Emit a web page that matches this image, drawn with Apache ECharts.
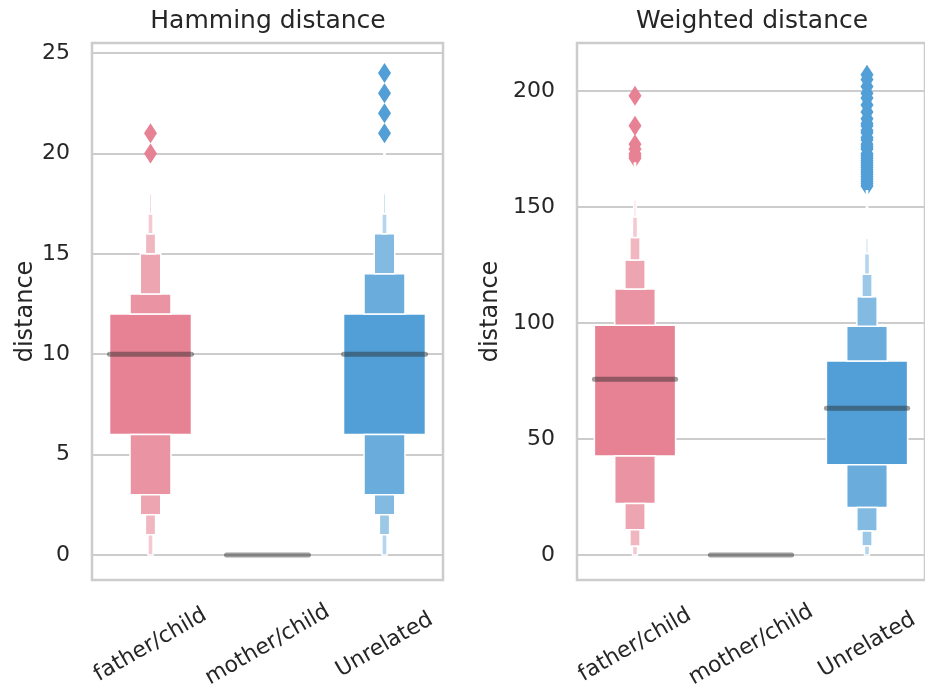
<!DOCTYPE html>
<html><head><meta charset="utf-8">
<script src="https://cdn.jsdelivr.net/npm/echarts@6/dist/echarts.min.js"></script>
<style>html,body{margin:0;padding:0;background:#fff}#c{width:925px;height:691px}</style>
</head><body><div id="c"></div>
<script>
// ---- data ----
const categories = ['father/child', 'mother/child', 'Unrelated'];
const baseColors = ['#e68294', '#7cb461', '#519fd6'];

// Hamming distance: letter values (index 0 = innermost box)
const hamMedians = [10, 0, 10];
const hamFatherLower = [6, 3, 2, 1, 0, 0, 0];
const hamFatherUpper = [12, 13, 15, 16, 17, 18, 19];
const hamUnrelLower = [6, 3, 2, 1, 0, 0, 0];
const hamUnrelUpper = [12, 14, 16, 16, 17, 18, 20];
const hamFatherOutliers = [20, 21];
const hamUnrelOutliers = [21, 22, 23, 24];
const hamTicks = [0, 5, 10, 15, 20, 25];

// Weighted distance
const wtdMedians = [75.7, 0, 63.2];
const wtdFatherLower = [42.7, 22.2, 10.9, 3.7, 0, 0, 0];
const wtdFatherUpper = [99.0, 114.7, 127.1, 136.9, 145.8, 153.0, 169];
const wtdUnrelLower = [38.9, 20.5, 10.3, 3.9, 0, 0, 0];
const wtdUnrelUpper = [83.6, 98.6, 111.3, 121.0, 130.0, 136.5, 157];
const wtdFatherOutliers = [198, 185, 177, 175, 173, 172, 171];
const wtdUnrelOutliers = [207, 205, 202, 199, 197, 194, 191, 188, 186, 185, 183, 182, 180, 179, 177, 176, 175, 173, 172, 171, 170, 169, 168, 167, 166, 165, 164, 163, 162, 161, 160, 159];
const wtdTicks = [0, 50, 100, 150, 200];

// ---- helpers ----
function hexToRgb(h) { h = h.replace('#', ''); return [0, 2, 4].map(i => parseInt(h.substr(i, 2), 16)); }
function levelColor(cat, level, k) {
  const c = hexToRgb(baseColors[cat]);
  const f = 0.85 * level / (k - 1);
  const m = c.map(v => Math.round(v + (255 - v) * f));
  return 'rgb(' + m.join(',') + ')';
}
function buildBoxes(cat, lower, upper) {
  const k = upper.length, out = [];
  out.push([cat, lower[0], upper[0], 0, k]);
  for (let i = 1; i < k; i++) {
    if (upper[i] > upper[i - 1]) out.push([cat, upper[i - 1], upper[i], i, k]);
    if (lower[i] < lower[i - 1]) out.push([cat, lower[i], lower[i - 1], i, k]);
  }
  return out;
}
const BOXW = 0.7;
function boxRender(params, api) {
  const cat = api.value(0), lo = api.value(1), hi = api.value(2), level = api.value(3), k = api.value(4);
  const band = api.size([1, 0])[0];
  const w = band * BOXW * Math.pow(0.5, level);
  const p1 = api.coord([cat, hi]), p2 = api.coord([cat, lo]);
  return { type: 'rect', shape: { x: p1[0] - w / 2, y: p1[1], width: w, height: p2[1] - p1[1] },
    style: { fill: levelColor(cat, level, k), stroke: '#ffffff', lineWidth: 1.5 } };
}
function medianRender(params, api) {
  const cat = api.value(0), m = api.value(1);
  const band = api.size([1, 0])[0], w = band * BOXW;
  const p = api.coord([cat, m]);
  return { type: 'line', shape: { x1: p[0] - w / 2, y1: p[1], x2: p[0] + w / 2, y2: p[1] },
    style: { stroke: 'rgba(38,38,38,0.45)', lineWidth: 5, lineCap: 'round' } };
}
function outlierData(cat, arr) { return arr.map(v => [cat, v]); }

const txt = '#262626';
const font = 'DejaVu Sans';
function yAxis(idx, min, max, ticks, gap) {
  return { type: 'value', gridIndex: idx, min: min, max: max, splitNumber: 5,
    name: 'distance', nameLocation: 'middle', nameGap: gap,
    nameTextStyle: { fontSize: 24, color: txt, fontFamily: font },
    axisLine: { show: false }, axisTick: { show: false },
    axisLabel: { fontSize: 22, color: txt, fontFamily: font, margin: 22,
      formatter: v => (ticks.indexOf(v) >= 0 ? String(v) : '') },
    splitLine: { show: true, lineStyle: { color: '#cccccc', width: 2 } } };
}
function xAxis(idx) {
  return { type: 'category', gridIndex: idx, data: categories, boundaryGap: true,
    axisLine: { show: false }, axisTick: { show: false }, splitLine: { show: false },
    axisLabel: { rotate: 30, align: 'center', verticalAlign: 'middle', margin: 65, interval: 0,
      fontSize: 22, color: txt, fontFamily: font } };
}

const series = [];
function addPanel(idx, medians, fL, fU, uL, uU, fOut, uOut) {
  const boxes = buildBoxes(0, fL, fU).concat(buildBoxes(2, uL, uU));
  series.push({ type: 'scatter', xAxisIndex: idx, yAxisIndex: idx, symbol: 'diamond', symbolSize: [13, 20],
    data: outlierData(0, fOut), itemStyle: { color: baseColors[0], opacity: 1 }, z: 2, silent: true });
  series.push({ type: 'scatter', xAxisIndex: idx, yAxisIndex: idx, symbol: 'diamond', symbolSize: [13, 20],
    data: outlierData(2, uOut), itemStyle: { color: baseColors[2], opacity: 1 }, z: 2, silent: true });
  series.push({ type: 'custom', xAxisIndex: idx, yAxisIndex: idx, renderItem: boxRender,
    data: boxes, encode: { x: 0, y: [1, 2] }, z: 3, silent: true });
  series.push({ type: 'custom', xAxisIndex: idx, yAxisIndex: idx, renderItem: medianRender,
    data: medians.map((m, i) => [i, m]), encode: { x: 0, y: 1 }, z: 4, silent: true });
}
addPanel(0, hamMedians, hamFatherLower, hamFatherUpper, hamUnrelLower, hamUnrelUpper, hamFatherOutliers, hamUnrelOutliers);
addPanel(1, wtdMedians, wtdFatherLower, wtdFatherUpper, wtdUnrelLower, wtdUnrelUpper, wtdFatherOutliers, wtdUnrelOutliers);

const chart = echarts.init(document.getElementById('c'), null, { renderer: 'canvas' });
chart.setOption({
  animation: false,
  backgroundColor: '#ffffff',
  title: [
    { text: 'Hamming distance', left: 263, top: 4, textAlign: 'center',
      textStyle: { fontSize: 25, fontWeight: 'normal', color: txt, fontFamily: font } },
    { text: 'Weighted distance', left: 747, top: 4, textAlign: 'center',
      textStyle: { fontSize: 25, fontWeight: 'normal', color: txt, fontFamily: font } }
  ],
  grid: [
    { left: 92, top: 43, width: 351, height: 537, show: true, borderColor: '#cccccc', borderWidth: 2.5, containLabel: false },
    { left: 577, top: 43, width: 352, height: 537, show: true, borderColor: '#cccccc', borderWidth: 2.5, containLabel: false }
  ],
  xAxis: [xAxis(0), xAxis(1)],
  yAxis: [yAxis(0, -1.25, 25.5, hamTicks, 54), yAxis(1, -10.8, 220.7, wtdTicks, 74)],
  series: series
});
</script></body></html>
